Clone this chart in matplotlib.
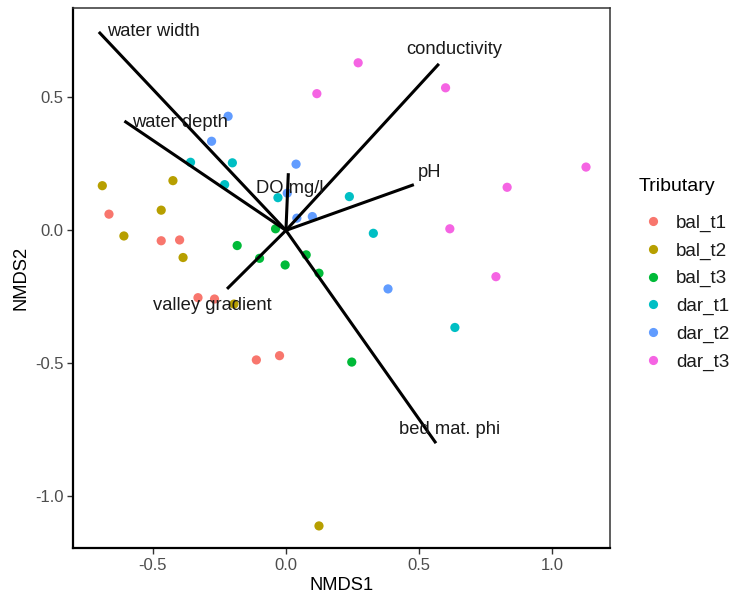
import matplotlib
matplotlib.use("Agg")
import matplotlib.pyplot as plt
from matplotlib.lines import Line2D

plt.rcParams['font.family'] = ['Liberation Sans', 'DejaVu Sans']

# ---- data -------------------------------------------------------------
tributaries = ["bal_t1", "bal_t2", "bal_t3", "dar_t1", "dar_t2", "dar_t3"]
colors = ["#F8766D", "#B79F00", "#00BA38", "#00BFC4", "#619CFF", "#F564E3"]

bal_t1_x = [-0.664, -0.468, -0.399, -0.330, -0.268, -0.111, -0.024]
bal_t1_y = [0.061, -0.039, -0.036, -0.253, -0.258, -0.487, -0.471]
bal_t2_x = [-0.689, -0.424, -0.468, -0.608, -0.386, -0.195, 0.124]
bal_t2_y = [0.168, 0.187, 0.076, -0.021, -0.102, -0.277, -1.111]
bal_t3_x = [-0.039, -0.183, -0.099, -0.003, 0.076, 0.124, 0.247]
bal_t3_y = [0.006, -0.057, -0.105, -0.130, -0.092, -0.161, -0.495]
dar_t1_x = [-0.358, -0.201, -0.230, -0.030, 0.238, 0.328, 0.634]
dar_t1_y = [0.256, 0.254, 0.172, 0.123, 0.127, -0.011, -0.365]
dar_t2_x = [-0.217, -0.279, 0.038, 0.041, 0.099, 0.383, 0.005]
dar_t2_y = [0.429, 0.335, 0.249, 0.046, 0.052, -0.220, 0.140]
dar_t3_x = [0.116, 0.271, 0.599, 1.126, 0.830, 0.615, 0.788]
dar_t3_y = [0.514, 0.630, 0.536, 0.238, 0.162, 0.006, -0.174]

series_x = [bal_t1_x, bal_t2_x, bal_t3_x, dar_t1_x, dar_t2_x, dar_t3_x]
series_y = [bal_t1_y, bal_t2_y, bal_t3_y, dar_t1_y, dar_t2_y, dar_t3_y]

env_names = ["water width", "water depth", "conductivity", "pH",
             "DO mg/l", "valley gradient", "bed mat. phi"]
env_x = [-0.702, -0.606, 0.574, 0.480, 0.009, -0.221, 0.563]
env_y = [0.746, 0.411, 0.626, 0.172, 0.215, -0.220, -0.800]
label_x = [-0.499, -0.399, 0.633, 0.540, 0.015, -0.278, 0.615]
label_y = [0.746, 0.407, 0.680, 0.216, 0.159, -0.283, -0.750]

x_ticks = [-0.5, 0.0, 0.5, 1.0]
y_ticks = [-1.0, -0.5, 0.0, 0.5]

# ---- figure -----------------------------------------------------------
W, H = 736, 596
fig = plt.figure(figsize=(W / 100, H / 100), dpi=100)
ax = fig.add_axes([73 / W, (H - 548) / H, (610 - 73) / W, (548 - 8) / H])

for xs, ys, c, name in zip(series_x, series_y, colors, tributaries):
    ax.scatter(xs, ys, s=44, color=c, edgecolors='none', zorder=2, label=name)

for ex, ey in zip(env_x, env_y):
    ax.plot([0, ex], [0, ey], color='black', lw=2.2, solid_capstyle='butt', zorder=3)

for name, lx, ly in zip(env_names, label_x, label_y):
    ax.text(lx, ly, name, fontsize=13.2, color='#1a1a1a', ha='center', va='center', zorder=4)

ax.set_xlim(-0.799, 1.216)
ax.set_ylim(-1.194, 0.836)
ax.set_xticks(x_ticks)
ax.set_yticks(y_ticks)
ax.set_xticklabels([f"{v:.1f}" for v in x_ticks])
ax.set_yticklabels([f"{v:.1f}" for v in y_ticks])
ax.tick_params(axis='both', colors='#333333', labelcolor='#4D4D4D',
               labelsize=12, length=4, width=1, pad=3)

for side in ['top', 'right']:
    ax.spines[side].set_color('#333333')
    ax.spines[side].set_linewidth(1.1)
for side in ['left', 'bottom']:
    ax.spines[side].set_color('black')
    ax.spines[side].set_linewidth(1.6)

ax.set_xlabel("NMDS1", fontsize=13.2, color='black', labelpad=3)
ax.set_ylabel("NMDS2", fontsize=13.2, color='black', labelpad=4)

handles = [Line2D([], [], marker='o', ls='', color=c, markersize=6.6,
                  markeredgewidth=0) for c in colors]
leg = ax.legend(handles, tributaries, title="Tributary", loc='upper left',
                bbox_to_anchor=(639 / W, 1 - 178 / H), bbox_transform=fig.transFigure,
                frameon=False, fontsize=13.6, title_fontsize=14,
                handlelength=1.45, handletextpad=0.5, labelspacing=0.55,
                borderpad=0, borderaxespad=0, alignment='left')
leg._legend_box.sep = 14.0
for t in leg.get_texts():
    t.set_color('#1a1a1a')

fig.savefig("out.png", dpi=100)
